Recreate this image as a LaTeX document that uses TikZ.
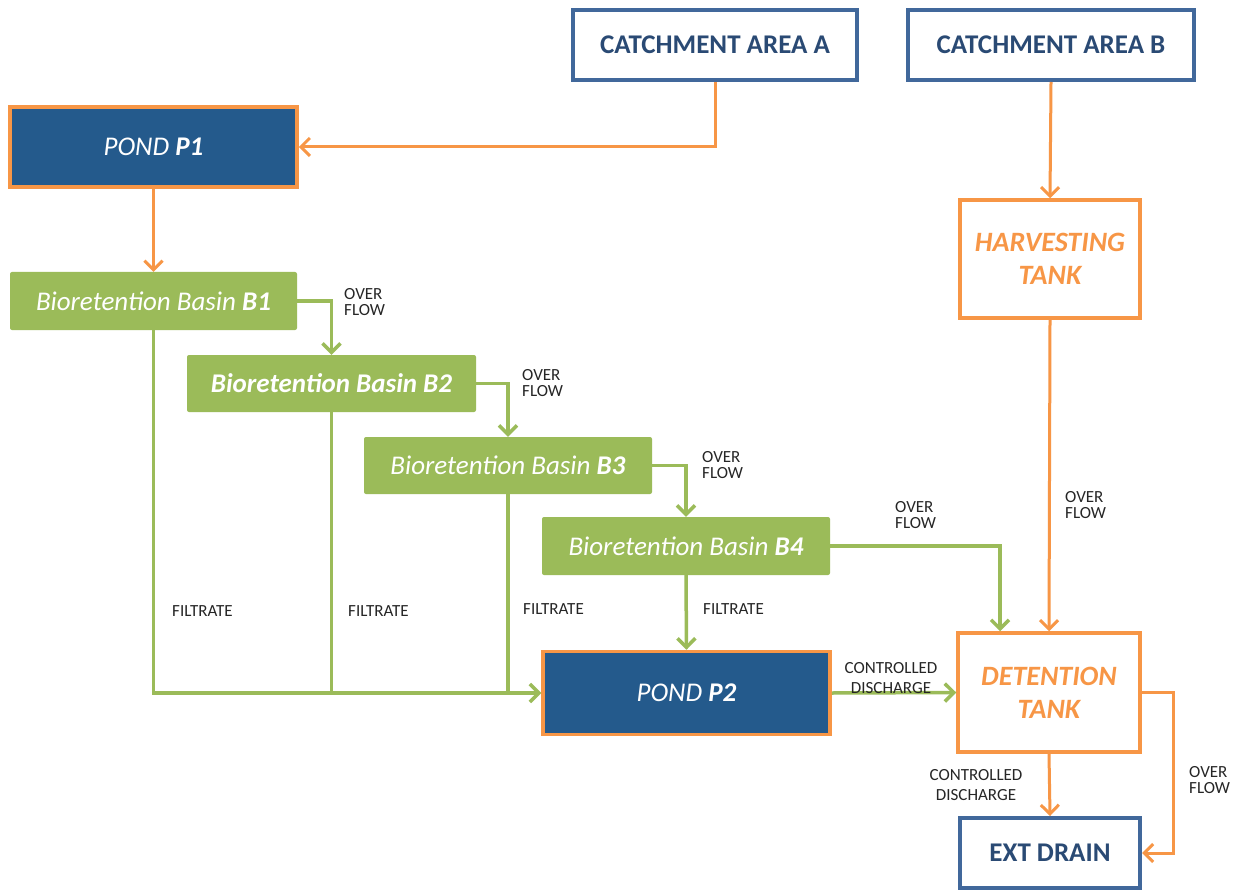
\documentclass[tikz,border=0pt]{standalone}
\usepackage{fontspec}
\setmainfont{Carlito}
\usetikzlibrary{arrows.meta}
\definecolor{dblue}{HTML}{245A8C}
\definecolor{bborder}{HTML}{41689B}
\definecolor{btext}{HTML}{2A4A74}
\definecolor{org}{HTML}{F79646}
\definecolor{grn}{HTML}{9BBB59}
\tikzset{
  catbox/.style={draw=bborder, line width=4pt, fill=white, text=btext, font=\fontsize{27}{30}\selectfont\bfseries, inner sep=0pt},
  pondbox/.style={draw=org, line width=3.5pt, fill=dblue, text=white, font=\fontsize{27}{30}\selectfont, inner sep=0pt},
  tankbox/.style={draw=org, line width=3.5pt, fill=white, text=org, font=\fontsize{28}{33}\selectfont\bfseries\itshape, align=center, inner sep=0pt},
  basin/.style={fill=grn, rounded corners=2pt, text=white, font=\fontsize{27}{30}\selectfont, inner sep=0pt},
  oarrow/.style={draw=org, line width=3pt, -{Straight Barb[length=9pt,width=18pt,line width=3pt]}},
  garrow/.style={draw=grn, line width=3.5pt, -{Straight Barb[length=9pt,width=18pt,line width=3.5pt]}},
  gline/.style={draw=grn, line width=3.5pt},
  lbl/.style={font=\fontsize{17}{16}\selectfont, text=black!85, inner sep=0pt},
  lblc/.style={font=\fontsize{17}{20}\selectfont, text=black!85, inner sep=0pt, align=center},
}
\begin{document}
\begin{tikzpicture}[x=1pt,y=-1pt]
\useasboundingbox (0,0) rectangle (1246,890);
\fill[white] (0,0) rectangle (1246,890);

\node[catbox, minimum width=284pt, minimum height=70pt] (catA) at (715,45) {CATCHMENT AREA A};
\node[catbox, minimum width=286pt, minimum height=70pt] (catB) at (1051,45) {CATCHMENT AREA B};
\node[pondbox, minimum width=287pt, minimum height=80pt] (P1) at (153.5,147) {\textit{POND \textbf{P1}}};
\node[tankbox, minimum width=180pt, minimum height=118pt] (harv) at (1050,259) {HARVESTING\\TANK};
\node[basin, minimum width=287pt, minimum height=58pt] (B1) at (153.5,301) {\textit{Bioretention Basin \textbf{B1}}};
\node[basin, minimum width=289pt, minimum height=57pt] (B2) at (331.5,383.5) {\textbf{\textit{Bioretention Basin B2}}};
\node[basin, minimum width=288pt, minimum height=57pt] (B3) at (508,465.5) {\textit{Bioretention Basin \textbf{B3}}};
\node[basin, minimum width=288pt, minimum height=58pt] (B4) at (686,546) {\textit{Bioretention Basin \textbf{B4}}};
\node[pondbox, minimum width=287pt, minimum height=83pt] (P2) at (686.5,693) {\textit{POND \textbf{P2}}};
\node[tankbox, minimum width=182pt, minimum height=119pt] (det) at (1049,692.5) {DETENTION\\TANK};
\node[catbox, minimum width=180pt, minimum height=70pt] (ext) at (1050,853) {EXT DRAIN};

% orange flows
\draw[oarrow] (catA.south) |- (P1.east);
\draw[oarrow] (P1.south) -- (B1.north);
\draw[oarrow] (catB.south) -- (harv.north);
\draw[oarrow] (harv.south) -- (det.north);
\draw[oarrow] (det.south) -- (ext.north);
\coordinate (dc) at ([xshift=32pt]det.east);
\draw[oarrow] (det.east) -- (dc) |- (ext.east);

% green flows
\draw[garrow] (B1.east) -| (B2.north);
\draw[garrow] (B2.east) -| (B3.north);
\draw[garrow] (B3.east) -| (B4.north);
\coordinate (b4d) at ([xshift=-49pt]det.north);
\draw[garrow] (B4.east) -| (b4d);
\draw[garrow] (B4.south) -- (P2.north);
\draw[garrow] (B1.south) |- (P2.west);
\coordinate (j2) at (B2.south |- P2.west);
\coordinate (j3) at (B3.south |- P2.west);
\draw[gline] (B2.south) -- (j2);
\draw[gline] (B3.south) -- (j3);
\draw[garrow] (P2.east) -- (det.west);

% labels
\node[lbl, align=left, anchor=west] (l1) at (344,302) {OVER\\FLOW};
\node[lbl, align=left, anchor=west] (l2) at (522,383) {OVER\\FLOW};
\node[lbl, align=left, anchor=west] (l3) at (702,465) {OVER\\FLOW};
\node[lbl, align=left, anchor=west] (l4) at (895,515) {OVER\\FLOW};
\node[lbl, align=left, anchor=west] (l5) at (1065,505) {OVER\\FLOW};
\node[lbl, align=left, anchor=west] (l6) at (1189,780) {OVER\\FLOW};
\node[lbl, anchor=west] (f1) at (172,611) {FILTRATE};
\node[lbl, anchor=west] (f2) at (348,611) {FILTRATE};
\node[lbl, anchor=west] (f3) at (523,609) {FILTRATE};
\node[lbl, anchor=west] (f4) at (703,609) {FILTRATE};
\node[lblc] (c1) at (891,678) {CONTROLLED\\DISCHARGE};
\node[lblc] (c2) at (976,785) {CONTROLLED\\DISCHARGE};
\end{tikzpicture}
\end{document}
